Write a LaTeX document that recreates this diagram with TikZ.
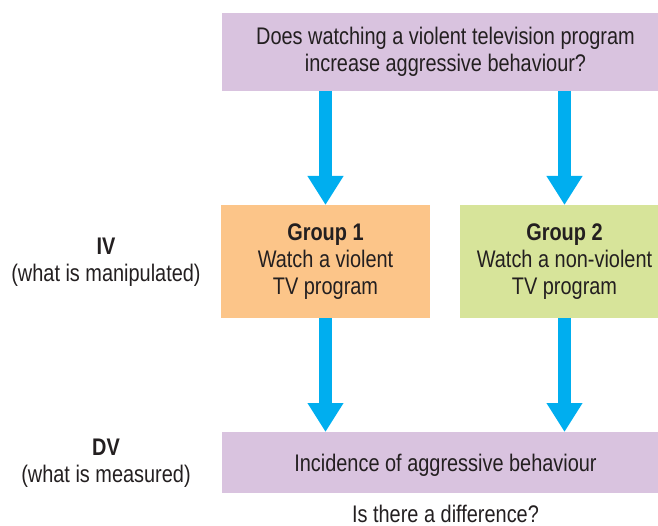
\documentclass[tikz,border=0pt]{standalone}
\usepackage{fontspec}
\setmainfont[FakeStretch=0.83]{Liberation Sans}
\usetikzlibrary{arrows.meta,calc}
\definecolor{boxpurple}{HTML}{D9C3DF}
\definecolor{boxorange}{HTML}{FCC589}
\definecolor{boxgreen}{HTML}{D7E49A}
\definecolor{arrowblue}{HTML}{00AEEF}
\definecolor{textdark}{HTML}{231F20}

\begin{document}
\begin{tikzpicture}[x=1pt, y=-1pt,
  every node/.style={text=textdark, align=center, inner sep=0pt, outer sep=0pt,
    font=\fontsize{24}{27}\selectfont},
  box/.style={minimum height=#1},
  bigarrow/.style={draw=arrowblue, line width=13.5pt,
    -{Triangle[width=34pt, length=29pt]}}]
\clip (0,0) rectangle (658,526);

\node[box=78pt, fill=boxpurple, minimum width=447pt] (question) at (445.5,52)
  {Does watching a violent television program\\increase aggressive behaviour?};
\node[box=113pt, fill=boxorange, minimum width=209pt] (grpone) at (325.5,261.5)
  {\textbf{Group 1}\\Watch a violent\\TV program};
\node[box=113pt, fill=boxgreen, minimum width=209pt] (grptwo) at (564.5,261.5)
  {\textbf{Group 2}\\Watch a non-violent\\TV program};
\node[box=61pt, fill=boxpurple, minimum width=447pt, text depth=0pt] (measure) at (445.5,462.5)
  {Incidence of aggressive behaviour};

\node (iv) at (106,262) {\textbf{IV}\\(what is manipulated)};
\node (dv) at (106,463) {\textbf{DV}\\(what is measured)};
\node[anchor=base, text depth=0pt] (diff) at (445.5,522) {Is there a difference?};

\draw[bigarrow] (question.south -| grpone.center) -- (grpone.north);
\draw[bigarrow] (question.south -| grptwo.center) -- (grptwo.north);
\draw[bigarrow] (grpone.south) -- (measure.north -| grpone.center);
\draw[bigarrow] (grptwo.south) -- (measure.north -| grptwo.center);
\end{tikzpicture}
\end{document}
